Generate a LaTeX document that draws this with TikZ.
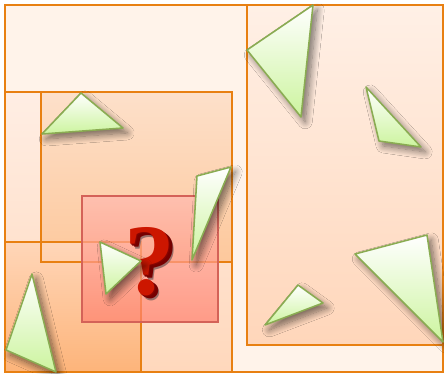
\documentclass[tikz,border=0pt]{standalone}
\usepackage{fontspec}
\setmainfont{Liberation Serif}
\usetikzlibrary{shadows.blur}

\definecolor{boxline}{RGB}{232,128,18}
\definecolor{triline}{RGB}{138,172,82}
\definecolor{trifill}{RGB}{204,244,158}
\definecolor{qred}{RGB}{204,22,0}
\definecolor{qdark}{RGB}{118,0,0}
\definecolor{qshadow}{RGB}{110,50,40}
\definecolor{redbox}{RGB}{255,128,110}
\definecolor{redline}{RGB}{212,98,88}

\newcommand{\qlayer}[2]{\rlap{\hspace{#1}\raisebox{-#1}{\color{#2}?}}}

\begin{document}
\begin{tikzpicture}[x=0.025cm,y=-0.025cm,
    box/.style={draw=boxline,line width=1.4pt},
    tri/.style={draw=triline,line width=1.1pt,line join=round,
        top color=white,bottom color=trifill,
        blur shadow={shadow xshift=3pt,shadow yshift=-3.5pt,shadow opacity=55,
            shadow blur radius=5pt,shadow blur steps=12}}]
    \useasboundingbox (0,0) rectangle (444,373);

    % Panels
    \fill[color={rgb,255:red,255;green,243;blue,234}] (5,5) rectangle (443,372);
    \shade[top color={rgb,255:red,255;green,240;blue,230},bottom color={rgb,255:red,255;green,214;blue,186}] (247,5) rectangle (443,345);
    \shade[top color={rgb,255:red,255;green,238;blue,228},bottom color={rgb,255:red,255;green,216;blue,188}] (5,92) rectangle (232,372);
    \shade[top color={rgb,255:red,253;green,224;blue,202},bottom color={rgb,255:red,253;green,200;blue,156}] (41,92) rectangle (232,262);
    \shade[top color={rgb,255:red,255;green,214;blue,184},bottom color={rgb,255:red,253;green,180;blue,122}] (5,242) rectangle (141,372);

    % Panel borders
    \foreach \xa/\ya/\xb/\yb in {5/5/443/372, 247/5/443/345, 5/92/232/372, 41/92/232/262, 5/242/141/372}
        \draw[box] (\xa,\ya) rectangle (\xb,\yb);

    % Unknown region
    \draw[redline,line width=1pt,top color=redbox!55,bottom color=redbox,fill opacity=0.7] (82,196) rectangle (218,322);

    % Question mark
    \node (qmark) at (150,264) {\fontsize{72}{72}\selectfont\bfseries
        \qlayer{3.5pt}{qshadow!70}\qlayer{2.4pt}{qdark}\qlayer{1.6pt}{qdark}\qlayer{0.8pt}{qdark!80!qred}\color{qred}?};

    % Triangles
    \foreach \ax/\ay/\bx/\by/\cx/\cy in {42/134/81/93/123/128, 197/176/231/167/192/260,
        100/242/141/261/106/294, 32/274/6/350/56/372, 247/50/313/5/301/117,
        366/87/379/141/421/147, 355/254/427/235/443/342, 265/325/298/285/323/303}
        \draw[tri] (\ax,\ay) -- (\bx,\by) -- (\cx,\cy) -- cycle;
\end{tikzpicture}
\end{document}
